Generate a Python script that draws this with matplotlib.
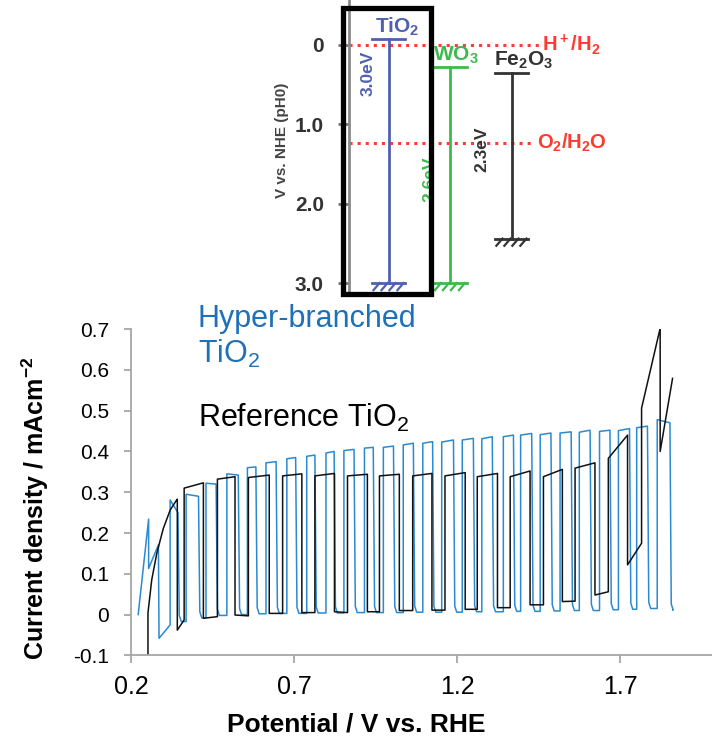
import numpy as np
import matplotlib
matplotlib.use('Agg')
import matplotlib.pyplot as plt
from matplotlib.patches import Rectangle

plt.rcParams['font.family'] = ['Liberation Sans', 'DejaVu Sans']
plt.rcParams['mathtext.fontset'] = 'custom'
plt.rcParams['mathtext.rm'] = 'Liberation Sans'
plt.rcParams['mathtext.default'] = 'regular'

# ---- band diagram data (V vs. NHE, pH0) ----
materials = ['TiO$_2$', 'WO$_3$', 'Fe$_2$O$_3$']
cb_edge = [-0.07, 0.28, 0.35]
vb_edge = [3.0, 3.0, 2.44]
gap_labels = ['3.0eV', '2.6eV', '2.3eV']
redox_levels = [0.0, 1.23]
redox_labels = ['H$^+$/H$_2$', 'O$_2$/H$_2$O']
nhe_ticks = [0, 1.0, 2.0, 3.0]
nhe_ticklabels = ['0', '1.0', '2.0', '3.0']

# ---- chopped-light scan, hyper-branched TiO2 (blue) ----
hb_lead_v = [0.222, 0.254, 0.254, 0.284, 0.286, 0.320]
hb_lead_i = [0.0, 0.234, 0.113, 0.171, -0.058, -0.025]
hb_on_v = [0.320, 0.369, 0.430, 0.494, 0.557, 0.614, 0.678, 0.739, 0.798, 0.853,
           0.916, 0.974, 1.035, 1.095, 1.153, 1.216, 1.276, 1.342, 1.395, 1.455,
           1.516, 1.575, 1.637, 1.695, 1.751, 1.814]
hb_off_v = [0.344, 0.407, 0.461, 0.529, 0.583, 0.645, 0.705, 0.764, 0.823, 0.884,
            0.943, 1.005, 1.066, 1.125, 1.189, 1.250, 1.308, 1.373, 1.429, 1.488,
            1.550, 1.608, 1.669, 1.729, 1.784, 1.853]
hb_on_start = [0.281, 0.295, 0.322, 0.345, 0.360, 0.372, 0.382, 0.388, 0.396, 0.402,
               0.408, 0.410, 0.416, 0.420, 0.423, 0.428, 0.431, 0.436, 0.440, 0.441,
               0.445, 0.447, 0.449, 0.451, 0.458, 0.478]
hb_on_end = [0.250, 0.290, 0.320, 0.342, 0.362, 0.375, 0.385, 0.391, 0.400, 0.405,
             0.410, 0.413, 0.420, 0.424, 0.428, 0.432, 0.436, 0.440, 0.444, 0.445,
             0.448, 0.452, 0.452, 0.456, 0.462, 0.470]
hb_low = [-0.017, -0.008, -0.002, 0.0, 0.002, 0.003, 0.003, 0.004, 0.004, 0.005,
          0.005, 0.005, 0.006, 0.006, 0.006, 0.007, 0.007, 0.008, 0.008, 0.009,
          0.010, 0.010, 0.012, 0.013, 0.015, 0.011]
hb_end_v = 1.862

# ---- chopped-light scan, reference TiO2 (black) ----
ref_lead_v = [0.252, 0.252, 0.253, 0.2635, 0.279, 0.299, 0.320, 0.340, 0.342]
ref_lead_i = [-0.103, 0.003, 0.011, 0.085, 0.150, 0.211, 0.256, 0.281, 0.283]
ref_off_v = [0.342, 0.422, 0.519, 0.624, 0.724, 0.824, 0.925, 1.023, 1.123, 1.225,
             1.324, 1.424, 1.523, 1.623, 1.723, 1.823]
ref_on_v = [0.363, 0.465, 0.560, 0.665, 0.764, 0.864, 0.962, 1.064, 1.163, 1.262,
            1.363, 1.465, 1.562, 1.664, 1.766]
ref_on_start = [0.310, 0.332, 0.336, 0.340, 0.340, 0.340, 0.340, 0.340, 0.340, 0.338,
                0.338, 0.338, 0.359, 0.383, 0.506]
ref_on_end = [0.323, 0.338, 0.342, 0.345, 0.346, 0.344, 0.344, 0.346, 0.348, 0.346,
              0.352, 0.356, 0.372, 0.440, 0.702]
ref_off_start = [-0.038, -0.009, -0.001, 0.003, 0.005, 0.007, 0.007, 0.010, 0.011, 0.013,
                 0.017, 0.024, 0.032, 0.048, 0.122, 0.400]
ref_off_end = [-0.013, -0.005, -0.003, 0.003, 0.005, 0.005, 0.007, 0.010, 0.011, 0.013,
               0.017, 0.024, 0.033, 0.056, 0.175, 0.579]
ref_end_v = 1.861

x_ticks = [0.2, 0.7, 1.2, 1.7]
y_ticks = [0.7, 0.6, 0.5, 0.4, 0.3, 0.2, 0.1, 0, -0.1]
y_ticklabels = ['0.7', '0.6', '0.5', '0.4', '0.3', '0.2', '0.1', '0', '-0.1']

# build the square-wave traces
hb_v, hb_i = list(hb_lead_v), list(hb_lead_i)
for k in range(len(hb_on_v)):
    nxt = hb_on_v[k + 1] if k + 1 < len(hb_on_v) else hb_end_v
    hb_v += [hb_on_v[k], hb_off_v[k], hb_off_v[k] + 0.004, hb_off_v[k] + 0.01, nxt]
    hb_i += [hb_on_start[k], hb_on_end[k], hb_low[k] + 0.015, hb_low[k], hb_low[k]]

ref_v, ref_i = list(ref_lead_v), list(ref_lead_i)
for k in range(len(ref_off_v)):
    nxt = ref_on_v[k] if k < len(ref_on_v) else ref_end_v
    ref_v += [ref_off_v[k], nxt]
    ref_i += [ref_off_start[k], ref_off_end[k]]
    if k < len(ref_on_v):
        ref_v += [ref_on_v[k], ref_off_v[k + 1]]
        ref_i += [ref_on_start[k], ref_on_end[k]]

fig = plt.figure(figsize=(7.12, 7.41), dpi=100)

# ---------------- main chart ----------------
ax = fig.add_axes([0.184, 0.1155, 0.816, 0.4405])
ax.plot(hb_v, hb_i, color='#2a8ad0', lw=1.1)
ax.plot(ref_v, ref_i, color='#111111', lw=1.1)
ax.set_xlim(0.2, 1.982)
ax.set_ylim(-0.1, 0.7)
ax.set_xticks(x_ticks)
ax.set_xticklabels([f'{t:.1f}' for t in x_ticks],
                   family=['Liberation Sans Narrow', 'Liberation Sans'], fontsize=18)
ax.set_yticks(y_ticks)
ax.set_yticklabels(y_ticklabels, fontsize=15)
for s in ['top', 'right']:
    ax.spines[s].set_visible(False)
for s in ['left', 'bottom']:
    ax.spines[s].set_color('#a6a6a6')
    ax.spines[s].set_linewidth(1.3)
ax.tick_params(axis='y', direction='out', length=5, width=1.3, color='#a6a6a6', pad=11)
ax.tick_params(axis='x', direction='out', length=6, width=1.3, color='#a6a6a6', pad=8)

fig.text(35 / 712, 1 - 508 / 741, 'Current density / mAcm$^{-2}$', rotation=90,
         ha='center', va='center', fontsize=18, fontweight='bold')
fig.text(356 / 712, 1 - 725 / 741, 'Potential / V vs. RHE', ha='center', va='center',
         fontsize=19, fontweight='bold', family=['Liberation Sans Narrow', 'Liberation Sans'])
fig.text(198 / 712, 1 - 327 / 741, 'Hyper-branched', color='#1e70b8', fontsize=22,
         va='baseline')
fig.text(198 / 712, 1 - 363 / 741, 'TiO$_2$', color='#1e70b8', fontsize=22, va='baseline')
fig.text(198 / 712, 1 - 427 / 741, 'Reference TiO$_2$', color='black', fontsize=22,
         va='baseline')

# ---------------- band diagram ----------------
bx = fig.add_axes([0.490, 0.6019, 0.3694, 0.3981])
bx.set_xlim(0.35, 4.63)
bx.set_ylim(3.151, -0.567)
bx.patch.set_alpha(0)
for s in ['top', 'right', 'bottom']:
    bx.spines[s].set_visible(False)
bx.spines['left'].set_color('#8a8a8a')
bx.spines['left'].set_linewidth(2)
bx.set_xticks([])
bx.set_yticks(nhe_ticks)
bx.set_yticklabels(nhe_ticklabels, fontsize=15, fontweight='bold', color='#333333')
bx.tick_params(axis='y', direction='out', length=8, width=2, color='#777777', pad=10)
fig.text(282 / 712, 1 - 140 / 741, 'V vs. NHE (pH0)', rotation=90, ha='center',
         va='center', fontsize=11, fontweight='bold', color='#444444')

band_colors = ['#5060b0', '#3dba4e', '#333333']
band_x = [1, 2, 3]
label_dx = [0.13, 0.09, 0.2]
gap_dx = [-0.33, -0.33, -0.49]
gap_y = [0.36, 1.69, 1.31]

for lvl, lab, x_end in zip(redox_levels, redox_labels, [3.46, 3.37]):
    bx.plot([0.36, x_end], [lvl, lvl], color='#ff3b30', ls=':', lw=2.2)
    bx.text(x_end + 0.04, lvl, lab, color='#ff3b30', fontsize=14.5, fontweight='bold',
            ha='left', va='center')

for k, name in enumerate(materials):
    x0, c = band_x[k], band_colors[k]
    bx.plot([x0, x0], [cb_edge[k], vb_edge[k]], color=c, lw=2)
    bx.plot([x0 - 0.27, x0 + 0.27], [cb_edge[k], cb_edge[k]], color=c, lw=2)
    bx.plot([x0 - 0.27, x0 + 0.27], [vb_edge[k], vb_edge[k]], color=c, lw=2)
    for j in range(4):
        xs = x0 - 0.15 + j * 0.13
        bx.plot([xs, xs - 0.1], [vb_edge[k], vb_edge[k] + 0.09], color=c, lw=1.6)
    bx.text(x0 + label_dx[k], cb_edge[k] - 0.02, name, color=c, fontsize=15,
            fontweight='bold', ha='center', va='bottom')
    bx.text(x0 + gap_dx[k], gap_y[k], gap_labels[k], color=c, fontsize=12.5,
            fontweight='bold', rotation=90, ha='center', va='center')

fig.add_artist(Rectangle((342.5 / 712, 1 - 293.5 / 741), 88 / 712, 286 / 741,
                         transform=fig.transFigure, fill=False, ec='black', lw=3.8,
                         zorder=5))

fig.savefig('out.png', dpi=100)
